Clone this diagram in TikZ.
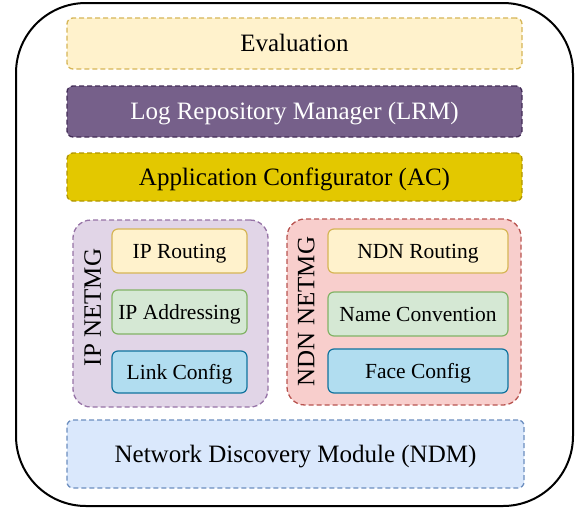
\documentclass[tikz,border=0pt]{standalone}
\usepackage{fontspec}
\setmainfont{Liberation Serif}
\definecolor{evalfill}{HTML}{FFF2CC}
\definecolor{evaldraw}{HTML}{D6B656}
\definecolor{lrmfill}{HTML}{76608A}
\definecolor{lrmdraw}{HTML}{432D57}
\definecolor{acfill}{HTML}{E3C800}
\definecolor{acdraw}{HTML}{B09500}
\definecolor{ipfill}{HTML}{E1D5E7}
\definecolor{ipdraw}{HTML}{9673A6}
\definecolor{ndnfill}{HTML}{F8CECC}
\definecolor{ndndraw}{HTML}{B85450}
\definecolor{greenfill}{HTML}{D5E8D4}
\definecolor{greendraw}{HTML}{82B366}
\definecolor{bluefill}{HTML}{B1DDF0}
\definecolor{bluedraw}{HTML}{10739E}
\definecolor{ndmfill}{HTML}{DAE8FC}
\definecolor{ndmdraw}{HTML}{6C8EBF}
\tikzset{
  layer/.style={rectangle, rounded corners=6pt, dash pattern=on 5pt off 3pt, line width=1.3pt,
    minimum width=455pt, inner sep=0pt, text height=16.5pt, text depth=0pt,
    font=\fontsize{25}{30}\selectfont},
  group/.style={rectangle, rounded corners=18pt, dash pattern=on 5pt off 3pt, line width=1.3pt, inner sep=0pt},
  sub/.style={rectangle, rounded corners=6pt, line width=1.2pt, inner sep=0pt, minimum height=44pt,
    text height=14.2pt, text depth=0pt, font=\fontsize{21.5}{26}\selectfont},
  grouplabel/.style={rotate=90, inner sep=0pt, text height=16.5pt, text depth=0pt,
    font=\fontsize{25}{30}\selectfont}
}
\begin{document}
\begin{tikzpicture}[x=1pt,y=-1pt]
\useasboundingbox (0,0) rectangle (579,507);
\draw[line width=2pt, rounded corners=70pt] (16,3) rectangle (573,506);
\node[layer, fill=evalfill, draw=evaldraw, minimum height=51pt] (eval) at (294.5,43.5) {Evaluation};
\node[layer, fill=lrmfill, draw=lrmdraw, minimum height=51pt, text=white] (lrm) at (294.5,111.5) {Log Repository Manager (LRM)};
\node[layer, fill=acfill, draw=acdraw, minimum height=48pt] (ac) at (294.5,177) {Application Configurator (AC)};
\node[group, fill=ipfill, draw=ipdraw, minimum width=195pt, minimum height=187pt] (ipg) at (170.5,313.5) {};
\node[group, fill=ndnfill, draw=ndndraw, minimum width=234pt, minimum height=186pt] (ndng) at (404,312) {};
\node[grouplabel] (iplabel) at (92.5,307.5) {IP NETMG};
\node[grouplabel] (ndnlabel) at (306,311.5) {NDN NETMG};
\node[sub, fill=evalfill, draw=evaldraw, minimum width=135pt] (iprouting) at (179.5,251) {IP Routing};
\node[sub, fill=greenfill, draw=greendraw, minimum width=135pt] (ipaddr) at (179.5,312) {IP Addressing};
\node[sub, fill=bluefill, draw=bluedraw, minimum width=135pt, minimum height=42pt] (linkcfg) at (179.5,372) {Link Config};
\node[sub, fill=evalfill, draw=evaldraw, minimum width=180pt] (ndnrouting) at (418,251) {NDN Routing};
\node[sub, fill=greenfill, draw=greendraw, minimum width=180pt] (namecon) at (418,314) {Name Convention};
\node[sub, fill=bluefill, draw=bluedraw, minimum width=180pt] (facecfg) at (418,371) {Face Config};
\node[layer, fill=ndmfill, draw=ndmdraw, minimum width=457pt, minimum height=68pt] (ndm) at (295.5,454) {Network Discovery Module (NDM)};
\end{tikzpicture}
\end{document}
